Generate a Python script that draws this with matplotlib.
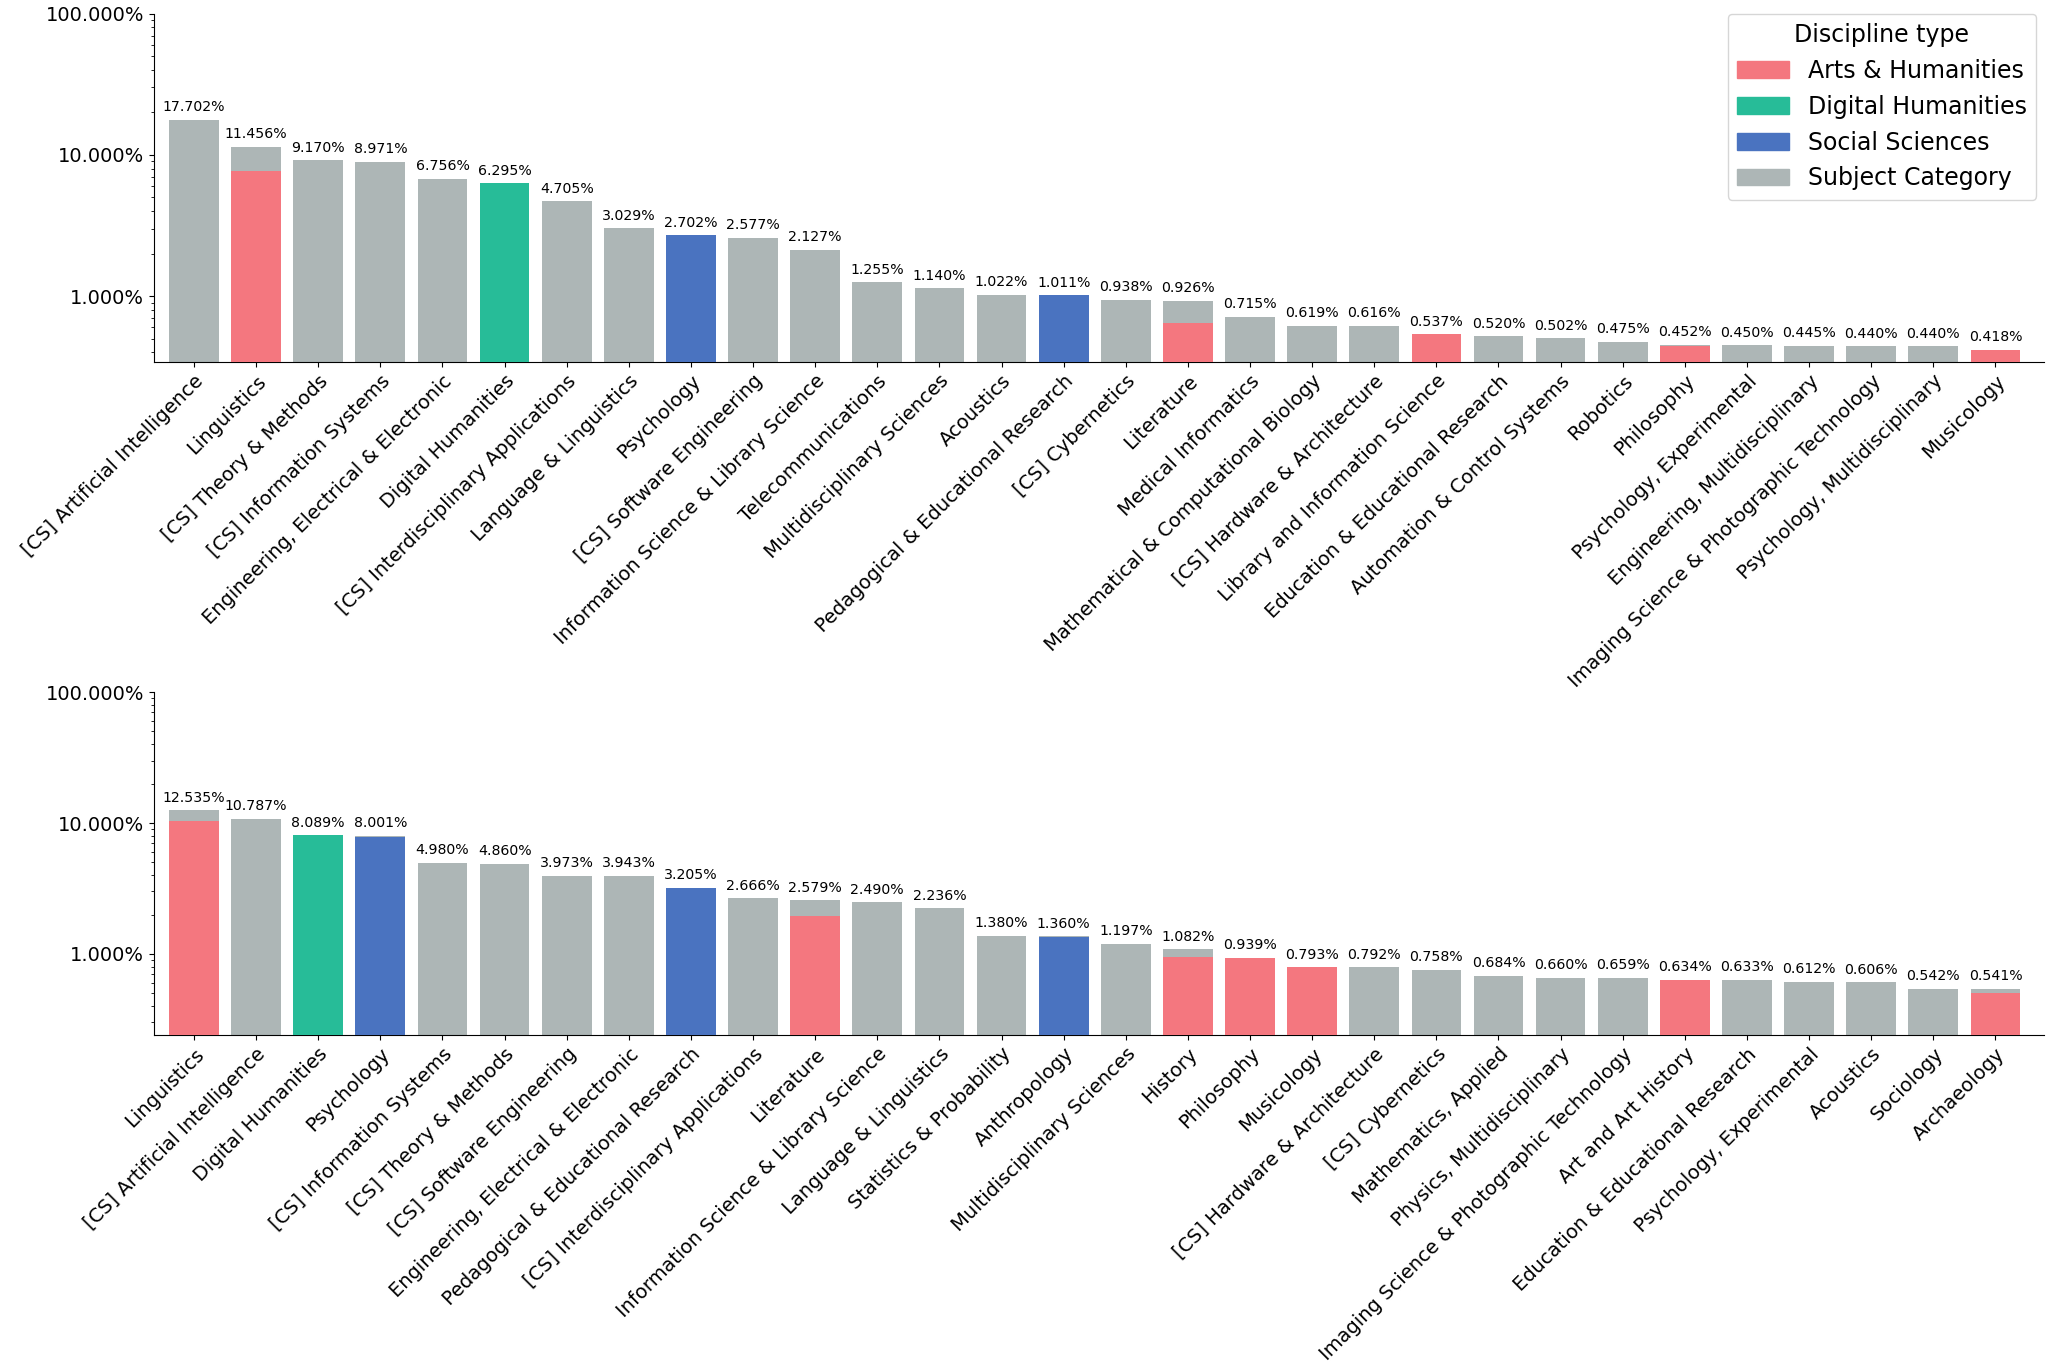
import numpy as np
import matplotlib
matplotlib.use("Agg")
import matplotlib.pyplot as plt
from matplotlib.patches import Patch
from matplotlib.ticker import FuncFormatter, NullFormatter

# colours per discipline type
type_colors = {
    "Arts & Humanities": "#f4777f",
    "Digital Humanities": "#27bc98",
    "Social Sciences": "#4a73c0",
    "Subject Category": "#adb6b6",
}

# top panel
top_labels = [
    "[CS] Artificial Intelligence", "Linguistics", "[CS] Theory & Methods",
    "[CS] Information Systems", "Engineering, Electrical & Electronic",
    "Digital Humanities", "[CS] Interdisciplinary Applications",
    "Language & Linguistics", "Psychology", "[CS] Software Engineering",
    "Information Science & Library Science", "Telecommunications",
    "Multidisciplinary Sciences", "Acoustics",
    "Pedagogical & Educational Research", "[CS] Cybernetics", "Literature",
    "Medical Informatics", "Mathematical & Computational Biology",
    "[CS] Hardware & Architecture", "Library and Information Science",
    "Education & Educational Research", "Automation & Control Systems",
    "Robotics", "Philosophy", "Psychology, Experimental",
    "Engineering, Multidisciplinary",
    "Imaging Science & Photographic Technology",
    "Psychology, Multidisciplinary", "Musicology",
]
top_totals = [17.702, 11.456, 9.170, 8.971, 6.756, 6.295, 4.705, 3.029, 2.702,
              2.577, 2.127, 1.255, 1.140, 1.022, 1.011, 0.938, 0.926, 0.715,
              0.619, 0.616, 0.537, 0.520, 0.502, 0.475, 0.452, 0.450, 0.445,
              0.440, 0.440, 0.418]
# coloured part (discipline type share), None = only subject category
top_typed = [None, 7.7, None, None, None, 6.295, None, None, 2.702,
             None, None, None, None, None, 1.011, None, 0.65, None,
             None, None, 0.537, None, None, None, 0.44, None, None,
             None, None, 0.418]
top_types = [None, "Arts & Humanities", None, None, None, "Digital Humanities",
             None, None, "Social Sciences", None, None, None, None, None,
             "Social Sciences", None, "Arts & Humanities", None, None, None,
             "Arts & Humanities", None, None, None, "Arts & Humanities", None,
             None, None, None, "Arts & Humanities"]

# bottom panel
bot_labels = [
    "Linguistics", "[CS] Artificial Intelligence", "Digital Humanities",
    "Psychology", "[CS] Information Systems", "[CS] Theory & Methods",
    "[CS] Software Engineering", "Engineering, Electrical & Electronic",
    "Pedagogical & Educational Research", "[CS] Interdisciplinary Applications",
    "Literature", "Information Science & Library Science",
    "Language & Linguistics", "Statistics & Probability", "Anthropology",
    "Multidisciplinary Sciences", "History", "Philosophy", "Musicology",
    "[CS] Hardware & Architecture", "[CS] Cybernetics", "Mathematics, Applied",
    "Physics, Multidisciplinary", "Imaging Science & Photographic Technology",
    "Art and Art History", "Education & Educational Research",
    "Psychology, Experimental", "Acoustics", "Sociology", "Archaeology",
]
bot_totals = [12.535, 10.787, 8.089, 8.001, 4.980, 4.860, 3.973, 3.943, 3.205,
              2.666, 2.579, 2.490, 2.236, 1.380, 1.360, 1.197, 1.082, 0.939,
              0.793, 0.792, 0.758, 0.684, 0.660, 0.659, 0.634, 0.633, 0.612,
              0.606, 0.542, 0.541]
bot_typed = [10.4, None, 8.089, 7.8, None, None, None, None, 3.205,
             None, 1.95, None, None, None, 1.34, None, 0.955, 0.93,
             0.793, None, None, None, None, None, 0.634, None, None,
             None, None, 0.50]
bot_types = ["Arts & Humanities", None, "Digital Humanities", "Social Sciences",
             None, None, None, None, "Social Sciences", None,
             "Arts & Humanities", None, None, None, "Social Sciences", None,
             "Arts & Humanities", "Arts & Humanities", "Arts & Humanities",
             None, None, None, None, None, "Arts & Humanities", None, None,
             None, None, "Arts & Humanities"]

fig = plt.figure(figsize=(20.48, 13.65), dpi=100)
ax1 = fig.add_axes([0.075, 0.735, 0.923, 0.255])
ax2 = fig.add_axes([0.075, 0.242, 0.923, 0.251])


def draw(ax, labels, totals, typed, types, ymin):
    x = np.arange(len(labels))
    ax.bar(x, totals, width=0.8, color=type_colors["Subject Category"], zorder=2)
    for i in range(len(labels)):
        if typed[i] is not None:
            ax.bar(x[i], typed[i], width=0.8, color=type_colors[types[i]], zorder=3)
        ax.annotate(f"{totals[i]:.3f}%", (x[i], totals[i]), xytext=(0, 4),
                    textcoords="offset points", ha="center", va="bottom",
                    fontsize=10.2)
    ax.set_yscale("log")
    ax.set_ylim(ymin, 100)
    ax.set_xlim(-0.65, len(labels) - 0.22)
    ax.yaxis.set_major_formatter(FuncFormatter(lambda v, p: f"{v:.3f}%"))
    ax.yaxis.set_minor_formatter(NullFormatter())
    ax.set_xticks(x)
    ax.set_xticklabels(labels, rotation=45, ha="right", rotation_mode="anchor",
                       fontsize=14)
    ax.tick_params(axis="y", labelsize=14)
    ax.spines["top"].set_visible(False)
    ax.spines["right"].set_visible(False)


draw(ax1, top_labels, top_totals, top_typed, top_types, 0.343)
draw(ax2, bot_labels, bot_totals, bot_typed, bot_types, 0.242)

handles = [Patch(color=c, label=k) for k, c in type_colors.items()]
ax1.legend(handles=handles, title="Discipline type", loc="upper right",
           fontsize=17, title_fontsize=17, bbox_to_anchor=(0.996, 1.0),
           borderaxespad=0, handlelength=2.2)

fig.savefig("out.png", dpi=100)
